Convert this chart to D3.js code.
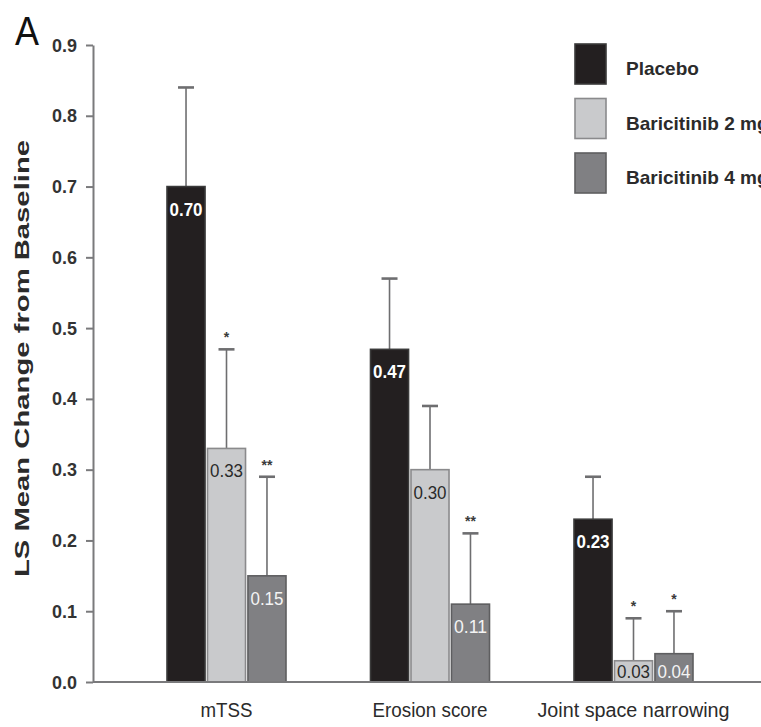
<!DOCTYPE html>
<html>
<head>
<meta charset="utf-8">
<script src="https://cdn.jsdelivr.net/npm/d3@7"></script>
<style>
  html, body { margin: 0; padding: 0; background: #fff; overflow: hidden; }
  svg { display: block; }
  text { font-family: "Liberation Sans", Arial, sans-serif; }
</style>
</head>
<body>
<svg id="chart" width="761" height="727"></svg>
<script>
// Outcome categories and treatment groups
const categories = ["mTSS", "Erosion score", "Joint space narrowing"];
const groups = ["Placebo", "Baricitinib 2 mg", "Baricitinib 4 mg"];

// LS mean change from baseline, one array per treatment group
const placebo = [0.70, 0.47, 0.23];
const bari2 = [0.33, 0.30, 0.03];
const bari4 = [0.15, 0.11, 0.04];

// Upper end of the error bar for each group
const placeboUpper = [0.84, 0.57, 0.29];
const bari2Upper = [0.47, 0.39, 0.09];
const bari4Upper = [0.29, 0.21, 0.10];

// Significance markers vs placebo
const placeboSig = ["", "", ""];
const bari2Sig = ["*", "", "*"];
const bari4Sig = ["**", "**", "*"];

const yTicks = [0.0, 0.1, 0.2, 0.3, 0.4, 0.5, 0.6, 0.7, 0.8, 0.9];

const fills = ["#231f20", "#c9cacc", "#808083"];
const outlines = ["#3a3a3a", "#8a8a8c", "#5e5e60"];
const labelColors = ["#ffffff", "#2a2a2a", "#f4f4f4"];
const labelWeights = ["bold", "normal", "normal"];
const axisColor = "#7a7a7c";

const series = [
  { values: placebo, upper: placeboUpper, sig: placeboSig },
  { values: bari2, upper: bari2Upper, sig: bari2Sig },
  { values: bari4, upper: bari4Upper, sig: bari4Sig }
];

const svg = d3.select("#chart");
const axisX = 93;

const y = d3.scaleLinear().domain([0, 0.9]).range([682, 45]);
const x0 = d3.scaleBand().domain(categories).range([146, 756.5]);
const x1 = d3.scaleBand().domain(groups).range([21, 140]).paddingInner(0.06);

// Y axis
const yAxis = d3.axisLeft(y).tickValues(yTicks).tickFormat(d3.format(".1f")).tickSize(7).tickSizeOuter(0);
const yg = svg.append("g").attr("transform", `translate(${axisX},0)`).call(yAxis);
yg.select(".domain").attr("stroke", axisColor).attr("stroke-width", 2);
yg.selectAll(".tick line").attr("stroke", axisColor).attr("stroke-width", 2);
yg.selectAll(".tick text")
  .attr("x", -16)
  .attr("textLength", 25).attr("lengthAdjust", "spacingAndGlyphs")
  .style("font-size", "19px").style("font-weight", "bold")
  .style("font-family", "'Liberation Sans', Arial, sans-serif")
  .attr("fill", "#333");

// Bars, error bars, value labels and significance markers
const cat = svg.append("g").selectAll("g").data(categories).join("g")
  .attr("transform", c => `translate(${x0(c)},0)`);

series.forEach((s, si) => {
  cat.each(function(c, ci) {
    const g = d3.select(this);
    const v = s.values[ci];
    const hi = s.upper[ci];
    const bx = x1(groups[si]);
    const bw = x1.bandwidth();
    const cx = bx + bw / 2;

    g.append("line")
      .attr("x1", cx).attr("x2", cx)
      .attr("y1", y(v)).attr("y2", y(hi))
      .attr("stroke", "#6e6e70").attr("stroke-width", 1.6);
    g.append("line")
      .attr("x1", cx - 8).attr("x2", cx + 8)
      .attr("y1", y(hi)).attr("y2", y(hi))
      .attr("stroke", "#6e6e70").attr("stroke-width", 2.6);

    g.append("rect")
      .attr("x", bx).attr("width", bw)
      .attr("y", y(v)).attr("height", y(0) - y(v))
      .attr("fill", fills[si])
      .attr("stroke", outlines[si]).attr("stroke-width", 1.6);

    const ly = Math.min(y(v) + 29, y(0) - 4);
    g.append("text")
      .attr("x", cx).attr("y", ly)
      .attr("text-anchor", "middle")
      .attr("fill", labelColors[si])
      .attr("textLength", 33).attr("lengthAdjust", "spacingAndGlyphs")
      .style("font-size", "18px").style("font-weight", labelWeights[si])
      .text(v.toFixed(2));

    if (s.sig[ci]) {
      g.append("text")
        .attr("x", cx).attr("y", y(hi) - 7)
        .attr("text-anchor", "middle")
        .attr("fill", "#3a3a3a")
        .style("font-size", "14px").style("font-weight", "bold")
        .text(s.sig[ci]);
    }
  });
});

// X axis baseline and category labels
svg.append("line")
  .attr("x1", axisX).attr("x2", 761)
  .attr("y1", y(0)).attr("y2", y(0))
  .attr("stroke", axisColor).attr("stroke-width", 2);

const catLabelWidths = [52, 115, 192];
svg.append("g").selectAll("text").data(categories).join("text")
  .attr("x", c => x0(c) + x1(groups[1]) + x1.bandwidth() / 2)
  .attr("y", 717)
  .attr("text-anchor", "middle")
  .attr("fill", "#2b2b2b")
  .attr("textLength", (c, i) => catLabelWidths[i]).attr("lengthAdjust", "spacingAndGlyphs")
  .style("font-size", "20px")
  .text(c => c);

// Y axis title
svg.append("text")
  .attr("transform", "translate(29,358.5) rotate(-90)")
  .attr("text-anchor", "middle")
  .attr("fill", "#2b2b2b")
  .attr("textLength", 437).attr("lengthAdjust", "spacingAndGlyphs")
  .style("font-size", "21px").style("font-weight", "bold")
  .text("LS Mean Change from Baseline");

// Panel letter
svg.append("text")
  .attr("x", 15).attr("y", 45)
  .attr("fill", "#111")
  .attr("textLength", 24).attr("lengthAdjust", "spacingAndGlyphs")
  .style("font-size", "41px")
  .text("A");

// Legend
const legend = svg.append("g").selectAll("g").data(groups).join("g")
  .attr("transform", (d, i) => `translate(575,${44 + i * 54.5})`);
legend.append("rect")
  .attr("width", 31).attr("height", 40)
  .attr("fill", (d, i) => fills[i])
  .attr("stroke", (d, i) => outlines[i]).attr("stroke-width", 1.6);
legend.append("text")
  .attr("x", 51).attr("y", 31)
  .attr("fill", "#2b2b2b")
  .style("font-size", "19px").style("font-weight", "bold")
  .text(d => d);
</script>
</body>
</html>
